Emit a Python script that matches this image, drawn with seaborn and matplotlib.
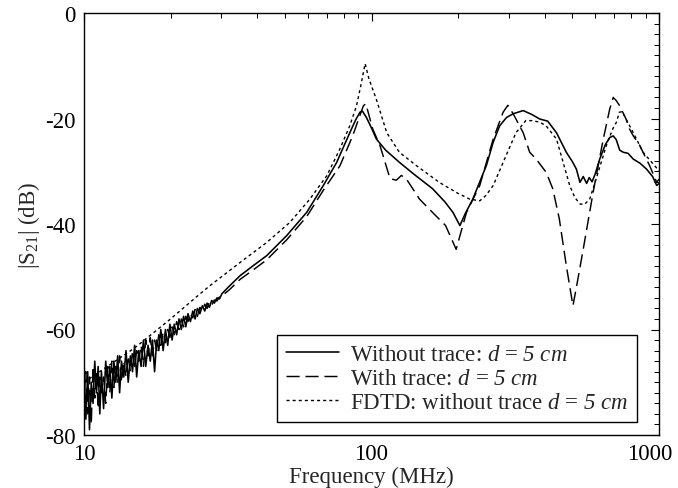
import numpy as np
import pandas as pd
import matplotlib
matplotlib.use("Agg")
import matplotlib.pyplot as plt
import matplotlib.transforms as mtransforms
import seaborn as sns
from matplotlib.ticker import LogLocator, MultipleLocator, FixedLocator, NullFormatter

# ---------------- data ----------------
freq_noise = [10.0, 10.15, 10.3, 10.45, 10.6, 10.75, 10.9, 11.05, 11.2, 11.35, 11.5, 11.7,
              11.9, 12.1, 12.3, 12.5, 12.7, 12.9, 13.1, 13.3, 13.5, 13.75, 14.0, 14.25,
              14.5, 14.75, 15.0, 15.25, 15.5, 15.8, 16.1, 16.4, 16.7, 17.0, 17.3, 17.6,
              17.9, 18.2, 18.5, 18.85, 19.2, 19.55, 19.9, 20.25, 20.6, 21.0, 21.4, 21.8,
              22.2, 22.6, 23.0, 23.45, 23.9, 24.35, 24.8, 25.3, 25.8, 26.3, 26.8, 27.3,
              27.8, 28.4, 29.0, 29.6, 30.2]

without_noise_db = [-66, -77, -68, -79, -70, -74, -66, -72, -67, -76, -68, -75,
                    -66, -71, -67, -73, -66, -70, -65, -72, -66, -69, -64, -70,
                    -65, -68, -63, -69, -64, -67, -62, -67, -63, -66, -62, -68,
                    -62, -64, -60, -64, -60, -63, -59, -62, -59, -61, -58, -60,
                    -57.5, -59.5, -57, -58.5, -56.5, -58, -56, -57, -55.5, -56.5, -55, -55.8,
                    -54.5, -55, -54, -54.2, -53.2]

with_noise_db = [-72, -68, -76, -69, -78, -67, -73, -68, -75, -69, -72, -69,
                 -74, -67, -72, -66, -71, -67, -70, -65, -70, -66, -69, -65,
                 -68, -64, -67, -64, -66, -63, -67, -62, -65, -61.5, -65, -62,
                 -64, -61, -63, -60.5, -62.5, -60, -61.5, -59.5, -61, -58.5, -60, -58,
                 -59.5, -57.5, -58.5, -57, -57.8, -56.2, -57.5, -55.8, -56.5, -55.2, -56, -54.8,
                 -55.4, -54.4, -54.6, -53.8, -53.6]

without_freq = [32, 34.9, 39, 43.2, 50.7, 59.5, 68, 75.7, 84.2, 88, 91.2, 93, 96, 100, 104,
                112, 125, 140, 163, 180, 192, 203, 212, 225, 238, 251, 265, 279, 295, 311,
                337, 360, 385, 410, 440, 476, 500, 516, 531, 545, 560, 572, 585, 600, 622,
                650, 674, 693, 710, 730, 751, 780, 814, 860, 905, 950, 982, 1000]
without_db = [-51.8, -49.8, -47.8, -46.0, -42.2, -37.8, -32.7, -28.3, -22.6, -20.3, -18.8, -18.6,
              -19.8, -21.8, -23.9, -26.0, -28.3, -30.5, -33.3, -35.8, -37.8, -40.3, -38.0, -35.3,
              -32.0, -28.9, -24.5, -21.4, -19.8, -19.1, -18.5, -19.2, -20.1, -20.5, -22.7, -26.4,
              -28.2, -29.6, -32.1, -31.0, -32.3, -31.2, -32.0, -30.5, -27.7, -25.0, -23.6, -23.3,
              -24.0, -26.0, -26.4, -26.6, -27.7, -28.5, -29.6, -31.0, -32.7, -32.3]

with_freq = [32, 34.9, 39, 43.2, 50.7, 59.5, 68, 77.6, 86, 91, 93.7, 95.5, 97, 101, 107, 116,
             122, 127, 132, 147, 163, 181, 197, 206, 214, 238, 252, 265, 287, 298, 311, 337,
             355, 374, 405, 427, 450, 476, 502, 520, 545, 590, 640, 674, 693, 710, 728, 768,
             790, 814, 857, 900, 927, 982, 1000]
with_db = [-52.5, -50.5, -48.6, -46.8, -43.0, -38.6, -33.6, -29.0, -23.3, -19.5, -17.6, -17.2,
           -18.5, -22.0, -25.1, -31.4, -31.7, -30.8, -31.4, -35.3, -37.8, -40.3, -44.8, -41.0,
           -37.8, -32.7, -28.0, -23.9, -18.8, -17.5, -19.1, -22.7, -26.4, -27.7, -30.2, -33.3,
           -39.0, -47.9, -55.5, -51.0, -44.8, -34.0, -23.9, -18.2, -16.0, -16.6, -17.5, -20.1,
           -22.0, -23.3, -25.1, -27.5, -28.9, -32.1, -31.5]

fdtd_freq = [10, 15, 20, 25, 27.4, 34.9, 43.2, 52, 61, 70, 77.6, 84, 88.7, 92, 95, 98, 104,
             113, 125, 143, 172, 200, 220, 238, 250, 265, 294, 318, 344, 362, 385, 405, 440,
             464, 489, 510, 531, 550, 574, 605, 656, 690, 711, 728, 745, 768, 814, 880, 1000]
fdtd_db = [-70.0, -63.5, -58.0, -53.5, -51.7, -47.3, -43.5, -39.7, -35.3, -30.8, -25.8, -21.4,
           -17.6, -13.5, -9.6, -12.5, -16.4, -22.7, -26.4, -28.9, -32.1, -34.2, -35.3, -35.6,
           -34.6, -32.7, -27.0, -22.7, -20.4, -20.4, -20.7, -21.4, -23.9, -28.3, -32.7, -35.0,
           -36.2, -36.3, -35.3, -31.4, -25.1, -22.0, -20.7, -18.8, -18.7, -20.1, -22.7, -26.4,
           -29.9]

# "\mathbf" is mapped to the italic serif face below so that "5 cm" is set in italics
labels = [r"Without trace: $d$ = $\mathbf{5\ cm}$",
          r"With trace: $d$ = $\mathbf{5\ cm}$",
          r"FDTD: without trace $d$ = $\mathbf{5\ cm}$"]
x_tick_labels = ["10", "100", "1000"]
y_tick_labels = ["0", "-20", "-40", "-60", "-80"]

# ---------------- styling ----------------
sns.set_style("white")
plt.rcParams["font.family"] = ["Liberation Serif", "DejaVu Serif"]
plt.rcParams["mathtext.fontset"] = "custom"
plt.rcParams["mathtext.rm"] = "Liberation Serif"
plt.rcParams["mathtext.it"] = "Liberation Serif:italic"
plt.rcParams["mathtext.bf"] = "Liberation Serif:italic"
plt.rcParams["axes.edgecolor"] = "black"

fs = 16.5

fig = plt.figure(figsize=(6.78, 4.89), dpi=100)
ax = fig.add_axes([84 / 678, 53 / 489, 575 / 678, 422 / 489])

df_without = pd.DataFrame({"f": freq_noise + without_freq, "db": without_noise_db + without_db})
df_with = pd.DataFrame({"f": freq_noise + with_freq, "db": with_noise_db + with_db})
df_fdtd = pd.DataFrame({"f": fdtd_freq, "db": fdtd_db})

sns.lineplot(data=df_without, x="f", y="db", ax=ax, color="black", lw=1.15,
             estimator=None, sort=False, label=labels[0])
sns.lineplot(data=df_with, x="f", y="db", ax=ax, color="black", lw=1.05,
             estimator=None, sort=False, label=labels[1])
sns.lineplot(data=df_fdtd, x="f", y="db", ax=ax, color="black", lw=1.0,
             estimator=None, sort=False, label=labels[2])

lines = ax.get_lines()
lines[1].set_dashes([9, 4])
lines[2].set_dashes([2.2, 2.2])

ax.set_xscale("log")
ax.set_xlim(10, 1000)
ax.set_ylim(-80, 0)

ax.xaxis.set_major_locator(FixedLocator([10, 100, 1000]))
ax.xaxis.set_minor_locator(LogLocator(base=10, subs=np.arange(2, 10)))
ax.xaxis.set_minor_formatter(NullFormatter())
ax.set_xticklabels(x_tick_labels)
ax.yaxis.set_major_locator(MultipleLocator(20))
ax.yaxis.set_minor_locator(MultipleLocator(2))
ax.set_yticks([0, -20, -40, -60, -80])
ax.set_yticklabels(y_tick_labels)

ax.tick_params(which="both", direction="in", top=True, right=True, colors="black",
               labelsize=fs, pad=6)
ax.tick_params(which="major", length=6, width=0.8)
ax.tick_params(which="minor", length=3.5, width=0.7)

# shift the last x tick label a little left so it stays inside the figure
last = ax.get_xticklabels()[-1]
last.set_transform(last.get_transform() + mtransforms.ScaledTranslation(-9 / 100, 0, fig.dpi_scale_trans))

for s in ax.spines.values():
    s.set_linewidth(1.0)
    s.set_color("black")

ax.set_xlabel("Frequency (MHz)", fontsize=fs, labelpad=1)
ax.set_ylabel(r"|S$_{\mathrm{21}}$| (dB)", fontsize=fs, labelpad=2)

leg = ax.legend(loc="lower right", bbox_to_anchor=(0.962, 0.031), fontsize=fs,
                frameon=True, fancybox=False, shadow=False, framealpha=1,
                edgecolor="black", handlelength=2.3, handletextpad=0.5,
                labelspacing=0.12, borderpad=0.4, borderaxespad=0)
leg.get_frame().set_linewidth(1.0)

fig.savefig("out.png", dpi=100)
